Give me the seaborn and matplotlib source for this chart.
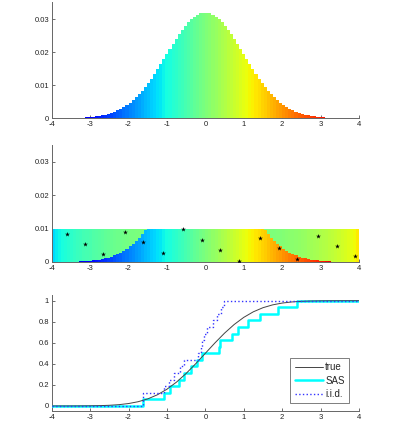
import numpy as np
import seaborn as sns
import matplotlib
matplotlib.use("Agg")
import matplotlib.pyplot as plt

# bar heights of the density (100 bins of width 0.08 on [-4, 4])
density = [0.00001, 0.00002, 0.00002, 0.00003, 0.00004, 0.00006, 0.00007, 0.00010, 0.00013, 0.00017,
           0.00022, 0.00028, 0.00036, 0.00045, 0.00057, 0.00071, 0.00088, 0.00109, 0.00133, 0.00163,
           0.00197, 0.00237, 0.00284, 0.00337, 0.00398, 0.00468, 0.00545, 0.00632, 0.00727, 0.00832,
           0.00945, 0.01068, 0.01198, 0.01336, 0.01480, 0.01629, 0.01781, 0.01936, 0.02090, 0.02243,
           0.02391, 0.02533, 0.02666, 0.02788, 0.02897, 0.02991, 0.03069, 0.03128, 0.03169, 0.03189,
           0.03189, 0.03169, 0.03128, 0.03069, 0.02991, 0.02897, 0.02788, 0.02666, 0.02533, 0.02391,
           0.02243, 0.02090, 0.01936, 0.01781, 0.01629, 0.01480, 0.01336, 0.01198, 0.01068, 0.00945,
           0.00832, 0.00727, 0.00632, 0.00545, 0.00468, 0.00398, 0.00337, 0.00284, 0.00237, 0.00197,
           0.00163, 0.00133, 0.00109, 0.00088, 0.00071, 0.00057, 0.00045, 0.00036, 0.00028, 0.00022,
           0.00017, 0.00013, 0.00010, 0.00007, 0.00006, 0.00004, 0.00003, 0.00002, 0.00002, 0.00001]
strip_height = 0.01

# stratified points in the middle panel
pts_x = [-3.61, -3.12, -2.66, -2.08, -1.61, -1.11, -0.58, -0.09, 0.38, 0.87, 1.42, 1.91, 2.38, 2.94, 3.42, 3.89]
pts_y = [0.0085, 0.0055, 0.0023, 0.0091, 0.0060, 0.0028, 0.0099, 0.0066, 0.0035, 0.0003, 0.0072, 0.0041,
         0.0009, 0.0079, 0.0047, 0.0017]

# samples for the empirical cdfs
sas_samples = [-1.63, -1.07, -0.92, -0.68, -0.55, -0.38, -0.22, -0.08, 0.36, 0.37, 0.70, 0.85, 1.10, 1.43,
               1.88, 2.38]
iid_samples = [-1.63, -1.62, -1.07, -0.95, -0.82, -0.66, -0.55, -0.18, -0.12, -0.08, -0.04, 0.05, 0.20,
               0.30, 0.40, 0.48]

# true normal cdf at -4, -3.75, ..., 4
cdf_x = [-4.0, -3.75, -3.5, -3.25, -3.0, -2.75, -2.5, -2.25, -2.0, -1.75, -1.5, -1.25, -1.0, -0.75, -0.5,
         -0.25, 0.0, 0.25, 0.5, 0.75, 1.0, 1.25, 1.5, 1.75, 2.0, 2.25, 2.5, 2.75, 3.0, 3.25, 3.5, 3.75, 4.0]
cdf_y = [0.00003, 0.00009, 0.00023, 0.00058, 0.00135, 0.00298, 0.00621, 0.01222, 0.02275, 0.04006,
         0.06681, 0.10565, 0.15866, 0.22663, 0.30854, 0.40129, 0.5, 0.59871, 0.69146, 0.77337, 0.84134,
         0.89435, 0.93319, 0.95994, 0.97725, 0.98778, 0.99379, 0.99702, 0.99865, 0.99942, 0.99977,
         0.99991, 0.99997]

sns.set_style("ticks")
plt.rcParams['font.family'] = ['Liberation Sans', 'DejaVu Sans']
plt.rcParams['font.size'] = 5.5

fig = plt.figure(figsize=(3.97, 4.30), dpi=100)
ax1 = fig.add_axes([0.1302, 0.7249, 0.774, 0.2693])
ax2 = fig.add_axes([0.1302, 0.3907, 0.774, 0.2714])
ax3 = fig.add_axes([0.1302, 0.0437, 0.774, 0.2693])

jet = plt.get_cmap('jet')
h = np.array(density)
n = len(h)
w = 8.0 / n
edges = np.linspace(-4, 4, n + 1)
centers = (edges[:-1] + edges[1:]) / 2
cols = jet((centers + 4) / 8)

# top: density coloured by position
ax1.bar(centers, h, width=w, color=cols, linewidth=0, align='center')
ax1.set_ylim(0, 0.035)

# middle: strip, lower part as above, upper part coloured by where its area comes from
low = np.minimum(h, strip_height)
up = strip_height - low
cap_cum = np.concatenate([[0], np.cumsum(np.maximum(h - strip_height, 0) * w)])
up_cum = np.cumsum(up * w) - up * w / 2
up_cum = up_cum * cap_cum[-1] / (up * w).sum()
src = np.interp(up_cum, cap_cum, edges)
ax2.bar(centers, low, width=w, color=cols, linewidth=0)
ax2.bar(centers, up, bottom=low, width=w, color=jet((src + 4) / 8), linewidth=0)
sns.scatterplot(x=pts_x, y=pts_y, ax=ax2, color='k', marker='*', s=13, linewidth=0, zorder=5)
ax2.set_ylim(0, 0.035)

# bottom: cdfs
def ecdf_steps(samples):
    s = np.sort(samples)
    xs = np.concatenate([[-4], s, [4]])
    ys = np.concatenate([[0], np.arange(1, len(s) + 1) / len(s), [1]])
    return xs, ys

sx, sy = ecdf_steps(sas_samples)
ix, iy = ecdf_steps(iid_samples)
sns.lineplot(x=cdf_x, y=cdf_y, ax=ax3, color='#444444', linewidth=0.7, label='true', zorder=4)
ax3.step(sx, sy, where='post', color='#00ffff', linewidth=1.8, label='SAS', zorder=3)
ax3.step(ix, iy, where='post', color='#3333ff', linewidth=1.0, linestyle=':', label='i.i.d.', zorder=5)
ax3.set_ylim(-0.05, 1.05)
ax3.set_yticks([0, 0.2, 0.4, 0.6, 0.8, 1])
ax3.set_yticklabels(['0', '0.2', '0.4', '0.6', '0.8', '1'])
leg = ax3.legend(loc='lower right', bbox_to_anchor=(0.968, 0.068), fontsize=7, frameon=True,
                 fancybox=False, handlelength=2.9, borderpad=0.45, labelspacing=0.35,
                 handletextpad=0.25, borderaxespad=0)
leg.get_frame().set_edgecolor('#444444')
leg.get_frame().set_linewidth(0.6)

for ax in (ax1, ax2):
    ax.set_yticks([0, 0.01, 0.02, 0.03])
    ax.set_yticklabels(['0', '0.01', '0.02', '0.03'])

for ax in (ax1, ax2, ax3):
    ax.set_xlim(-4, 4)
    ax.set_xticks(range(-4, 5))
    ax.set_xticklabels([str(v) for v in range(-4, 5)])
    ax.tick_params(direction='in', length=2.5, width=0.6, colors='#555555', labelcolor='#222222',
                   labelsize=5.5, pad=2)
    for side in ('top', 'right'):
        ax.spines[side].set_visible(False)
    for side in ('left', 'bottom'):
        ax.spines[side].set_color('#666666')
        ax.spines[side].set_linewidth(0.7)

fig.savefig('out.png', dpi=100)
